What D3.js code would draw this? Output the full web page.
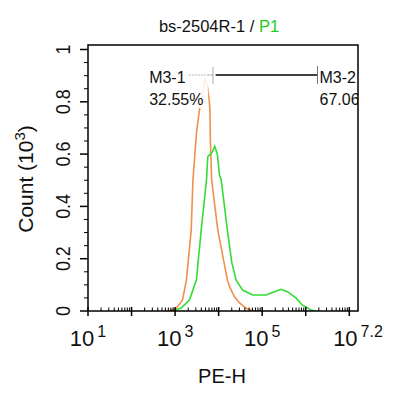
<!DOCTYPE html>
<html>
<head>
<meta charset="utf-8">
<script src="https://cdn.jsdelivr.net/npm/d3@7"></script>
<style>
  body { margin: 0; background: #fff; }
  text { font-family: Arial, "Liberation Sans", sans-serif; }
</style>
</head>
<body>
<div class="svg-container"></div>
<script>
// histogram values, x as log10(PE-H), y as count in thousands
var orangeLog   = [2.76, 2.88, 3.03, 3.17, 3.26, 3.37, 3.41, 3.49, 3.56, 3.61, 3.65, 3.69, 3.74, 3.78, 3.80, 3.81, 3.84, 3.98, 4.20, 4.25, 4.36, 4.48, 4.63, 4.82, 4.94];
var orangeCount = [0, 0.002, 0.011, 0.042, 0.119, 0.31, 0.50, 0.68, 0.77, 0.81, 0.85, 0.89, 0.86, 0.81, 0.77, 0.65, 0.50, 0.31, 0.119, 0.093, 0.055, 0.031, 0.010, 0, 0];

var greenLog   = [2.92, 2.99, 3.14, 3.33, 3.49, 3.60, 3.72, 3.75, 3.81, 3.86, 3.91, 3.97, 4.02, 4.06, 4.20, 4.30, 4.40, 4.55, 4.78, 5.09, 5.28, 5.43, 5.58, 5.78, 5.92, 6.12, 6.22];
var greenCount = [0, 0.002, 0.011, 0.042, 0.119, 0.31, 0.50, 0.59, 0.60, 0.61, 0.63, 0.60, 0.52, 0.50, 0.31, 0.187, 0.119, 0.080, 0.061, 0.061, 0.074, 0.083, 0.074, 0.049, 0.023, 0.004, 0];

var xTickVals = [1, 3, 5, 7.2];
var xTickExps = ["1", "3", "5", "7.2"];
var yTicks = [0, 0.2, 0.4, 0.6, 0.8, 1];

// gates: name, percent, from, to (log10)
var gateNames = ["M3-1", "M3-2"];
var gatePcts  = ["32.55%", "67.06%"];
var gateFrom  = [2.45, 3.93];
var gateTo    = [3.87, 6.27];

var svg1 = d3.select("body").select(".svg-container").append("svg")
    .attr("width", 400)
    .attr("height", 398);

var x = d3.scaleLinear().domain([1, 7.2]).range([88, 358]);
var y = d3.scaleLinear().domain([0, 1]).range([311, 49.5]);

svg1.append("clipPath").attr("id", "plotclip")
    .append("rect").attr("x", 88).attr("y", 45).attr("width", 270).attr("height", 266);

var plot = svg1.append("g").attr("clip-path", "url(#plotclip)");

var line = d3.line()
    .x(function(d){ return x(d[0]); })
    .y(function(d){ return y(d[1]); });

plot.append("path")
    .datum(d3.zip(orangeLog, orangeCount))
    .attr("d", line)
    .attr("fill", "none")
    .attr("stroke", "#f0904c")
    .attr("stroke-width", 1.6);

plot.append("path")
    .datum(d3.zip(greenLog, greenCount))
    .attr("d", line)
    .attr("fill", "none")
    .attr("stroke", "#33dd33")
    .attr("stroke-width", 1.6);

// gate lines
var gy = 75;
plot.append("line")
    .attr("x1", x(gateFrom[0])).attr("x2", x(gateTo[0]))
    .attr("y1", gy).attr("y2", gy)
    .attr("stroke", "#aaa").attr("stroke-width", 1.2).attr("stroke-dasharray", "1.5,1.5");
plot.append("line")
    .attr("x1", x(gateTo[0])).attr("x2", x(gateTo[0]))
    .attr("y1", gy - 8).attr("y2", gy + 9)
    .attr("stroke", "#aaa").attr("stroke-width", 1);
plot.append("line")
    .attr("x1", x(gateFrom[1])).attr("x2", x(gateTo[1]))
    .attr("y1", gy).attr("y2", gy)
    .attr("stroke", "#000").attr("stroke-width", 1.5);
plot.append("line")
    .attr("x1", x(gateTo[1])).attr("x2", x(gateTo[1]))
    .attr("y1", gy - 9).attr("y2", gy + 9)
    .attr("stroke", "#777").attr("stroke-width", 1);

// gate labels with pale backdrop
var labX = [x(gateFrom[0]) - 2, x(gateTo[1]) + 2];
for (var i = 0; i < 2; i++) {
  plot.append("rect")
    .attr("x", labX[i] - 1).attr("y", 68)
    .attr("width", i == 0 ? 60 : 62).attr("height", 40)
    .attr("fill", "#fff").attr("opacity", 0.85);
  if (i == 0) {
    plot.append("line")
      .attr("x1", labX[i] + 40).attr("x2", x(gateTo[0]))
      .attr("y1", gy).attr("y2", gy)
      .attr("stroke", "#aaa").attr("stroke-width", 1.2).attr("stroke-dasharray", "1.5,1.5");
  }
  plot.append("text")
    .attr("x", labX[i]).attr("y", 83)
    .attr("font-size", "16px").attr("fill", "#111")
    .text(gateNames[i]);
  plot.append("text")
    .attr("x", labX[i]).attr("y", 105)
    .attr("font-size", "16px").attr("fill", "#111")
    .text(gatePcts[i]);
}

// frame
svg1.append("rect")
    .attr("x", 88).attr("y", 45).attr("width", 270).attr("height", 266)
    .attr("fill", "none").attr("stroke", "#000").attr("stroke-width", 1.5);

// x ticks
var xMinor = [];
for (var n = 1; n < 7.2; n++) {
  for (var k = 2; k <= 9; k++) {
    var v = n + Math.log10(k);
    if (v < 7.2) xMinor.push(v);
  }
}
svg1.selectAll(".xminor").data(xMinor).enter().append("line")
    .attr("x1", function(d){ return x(d); }).attr("x2", function(d){ return x(d); })
    .attr("y1", 311).attr("y2", 307.5)
    .attr("stroke", "#000").attr("stroke-width", 1);
svg1.selectAll(".xmajor").data(d3.range(1, 8)).enter().append("line")
    .attr("x1", function(d){ return x(d); }).attr("x2", function(d){ return x(d); })
    .attr("y1", 307).attr("y2", 316)
    .attr("stroke", "#000").attr("stroke-width", 1.5);

var xl = svg1.selectAll(".xlab").data(xTickVals).enter().append("text")
    .attr("x", function(d){ return x(d); })
    .attr("y", 346)
    .attr("text-anchor", "middle")
    .attr("font-size", "22px")
    .attr("fill", "#111");
xl.append("tspan").text("10");
xl.append("tspan")
    .attr("dx", 3).attr("dy", -9)
    .attr("font-size", "16px")
    .text(function(d, i){ return xTickExps[i]; });

// y ticks
var yMinor = d3.range(0, 21).map(function(d){ return d * 0.05; })
    .filter(function(d){ return Math.round(d * 20) % 4 != 0; });
svg1.selectAll(".yminor").data(yMinor).enter().append("line")
    .attr("x1", 84).attr("x2", 88)
    .attr("y1", function(d){ return y(d); }).attr("y2", function(d){ return y(d); })
    .attr("stroke", "#000").attr("stroke-width", 1);
svg1.selectAll(".ymajor").data(yTicks).enter().append("line")
    .attr("x1", 80).attr("x2", 88)
    .attr("y1", function(d){ return y(d); }).attr("y2", function(d){ return y(d); })
    .attr("stroke", "#000").attr("stroke-width", 1.5);
svg1.selectAll(".ylab").data(yTicks).enter().append("text")
    .attr("transform", function(d){ return "translate(70," + y(d) + ") rotate(-90) scale(0.85,1)"; })
    .attr("text-anchor", "middle")
    .attr("font-size", "21px")
    .attr("fill", "#111")
    .text(function(d){ return d3.format("~g")(d); });

// axis titles
var yt = svg1.append("text")
    .attr("transform", "translate(33,179) rotate(-90)")
    .attr("text-anchor", "middle")
    .attr("font-size", "21px")
    .attr("fill", "#111");
yt.append("tspan").text("Count  (10");
yt.append("tspan").attr("dy", -8).attr("font-size", "15px").text("3");
yt.append("tspan").attr("dy", 8).text(")");

svg1.append("text")
    .attr("x", 222).attr("y", 383)
    .attr("text-anchor", "middle")
    .attr("font-size", "20px")
    .attr("fill", "#111")
    .text("PE-H");

var title = svg1.append("text")
    .attr("x", 219).attr("y", 32)
    .attr("text-anchor", "middle")
    .attr("font-size", "16.5px")
    .attr("fill", "#111");
title.append("tspan").text("bs-2504R-1 / ");
title.append("tspan").attr("fill", "#22cc22").text("P1");
</script>
</body>
</html>
